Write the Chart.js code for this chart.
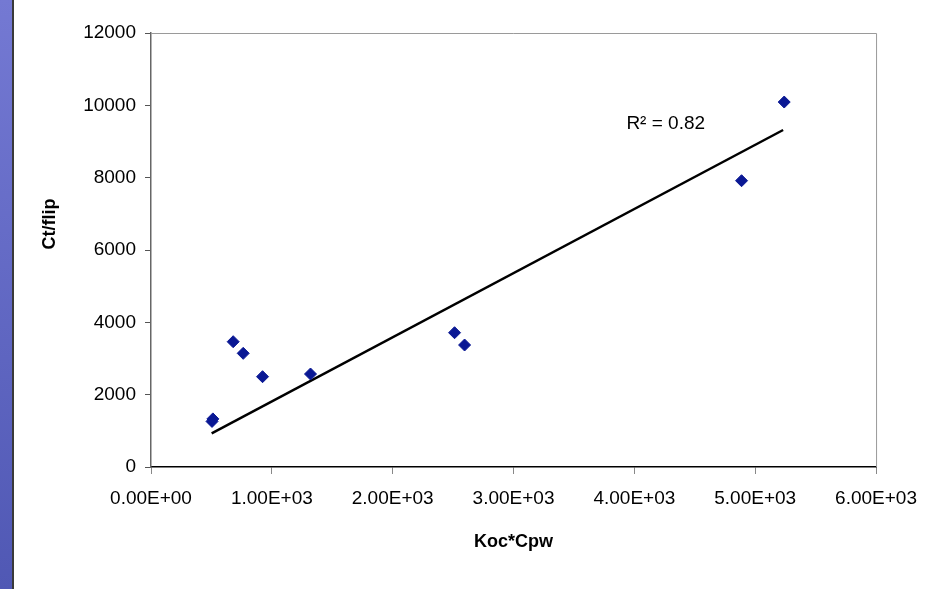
<!DOCTYPE html>
<html>
<head>
<meta charset="utf-8">
<script src="https://cdn.jsdelivr.net/npm/chart.js@4/dist/chart.umd.min.js"></script>
<style>
  html, body { margin: 0; padding: 0; background: #fff; }
  #wrap { position: absolute; left: 0; top: 0; width: 930px; height: 589px; }
  #strip {
    position: absolute; left: 0; top: 0; width: 12px; height: 589px;
    background: linear-gradient(to bottom, #7479d3, #5058b4);
    border-right: 2px solid #3a3a3a;
  }
</style>
</head>
<body>
<div id="wrap"><canvas id="chart" width="930" height="589"></canvas></div>
<div id="strip"></div>
<script>
// Scatter data (Koc*Cpw vs Ct/flip).
let kocCpw = [505, 512, 680, 763, 923, 1320, 2512, 2595, 4887, 5240];
let ctFlip = [1260, 1330, 3464, 3143, 2497, 2571, 3713, 3373, 7916, 10091];
// Linear trendline end points.
let trendX = [502, 5231];
let trendY = [932, 9318];
let xTickLabels = ["0.00E+00", "1.00E+03", "2.00E+03", "3.00E+03", "4.00E+03", "5.00E+03", "6.00E+03"];
let yTickLabels = ["0", "2000", "4000", "6000", "8000", "10000", "12000"];
let r2Text = "R\u00B2 = 0.82";

let fontFam = "'Liberation Sans', Arial, sans-serif";

// top and right frame of the plot area, the y title and the R2 label
let extras = {
  id: "extras",
  afterDraw(chart) {
    let ctx = chart.ctx;
    let a = chart.chartArea;
    ctx.save();
    ctx.strokeStyle = "#9a9a9a";
    ctx.lineWidth = 1;
    ctx.beginPath();
    ctx.moveTo(a.left, a.top + 0.5);
    ctx.lineTo(a.right + 0.5, a.top + 0.5);
    ctx.lineTo(a.right + 0.5, a.bottom);
    ctx.stroke();

    ctx.fillStyle = "#000";
    ctx.font = "bold 18px " + fontFam;
    ctx.textAlign = "center";
    ctx.textBaseline = "middle";
    ctx.translate(50, 224);
    ctx.rotate(-Math.PI / 2);
    ctx.fillText("Ct/flip", 0, 0);
    ctx.restore();

    ctx.save();
    ctx.fillStyle = "#000";
    ctx.font = "19px " + fontFam;
    ctx.textAlign = "left";
    ctx.textBaseline = "middle";
    let px = chart.scales.x.getPixelForValue(3934);
    let py = chart.scales.y.getPixelForValue(9480);
    ctx.fillText(r2Text, px, py);
    ctx.restore();
  }
};

let points = kocCpw.map((v, i) => ({ x: v, y: ctFlip[i] }));
let trend = trendX.map((v, i) => ({ x: v, y: trendY[i] }));

new Chart(document.getElementById("chart"), {
  type: "scatter",
  data: {
    datasets: [
      {
        data: points,
        pointStyle: "rectRot",
        pointRadius: 6,
        backgroundColor: "#0a1894",
        borderColor: "#0a1894",
        borderWidth: 1,
        order: 1
      },
      {
        type: "line",
        data: trend,
        borderColor: "#000",
        borderWidth: 2.5,
        pointRadius: 0,
        fill: false,
        order: 2
      }
    ]
  },
  plugins: [extras],
  options: {
    responsive: false,
    animation: false,
    devicePixelRatio: 1,
    layout: { padding: { left: 14, top: 33, right: 53, bottom: 0 } },
    plugins: { legend: { display: false }, tooltip: { enabled: false } },
    scales: {
      x: {
        type: "linear",
        min: 0,
        max: 6000,
        afterFit(scale) { scale.height = 122; },
        afterBuildTicks(scale) {
          scale.ticks = xTickLabels.map((t, i) => ({ value: i * 1000 }));
        },
        ticks: {
          callback: (v, i) => xTickLabels[i],
          color: "#000",
          font: { family: fontFam, size: 19 },
          padding: 13,
          maxRotation: 0
        },
        grid: { drawOnChartArea: false, drawTicks: true, tickLength: 7, color: "#888" },
        border: { color: "#000", width: 1.5 },
        title: {
          display: true,
          text: "Koc*Cpw",
          color: "#000",
          font: { family: fontFam, size: 18, weight: "bold" },
          padding: { top: 0, bottom: 36 }
        }
      },
      y: {
        type: "linear",
        min: 0,
        max: 12000,
        afterFit(scale) { scale.width = 137; },
        afterBuildTicks(scale) {
          scale.ticks = yTickLabels.map((t, i) => ({ value: i * 2000 }));
        },
        ticks: {
          callback: (v, i) => yTickLabels[i],
          color: "#000",
          font: { family: fontFam, size: 19 },
          padding: 9
        },
        grid: { drawOnChartArea: false, drawTicks: true, tickLength: 6, color: "#555" },
        border: { color: "#666", width: 1.5 }
      }
    }
  }
});
</script>
</body>
</html>
